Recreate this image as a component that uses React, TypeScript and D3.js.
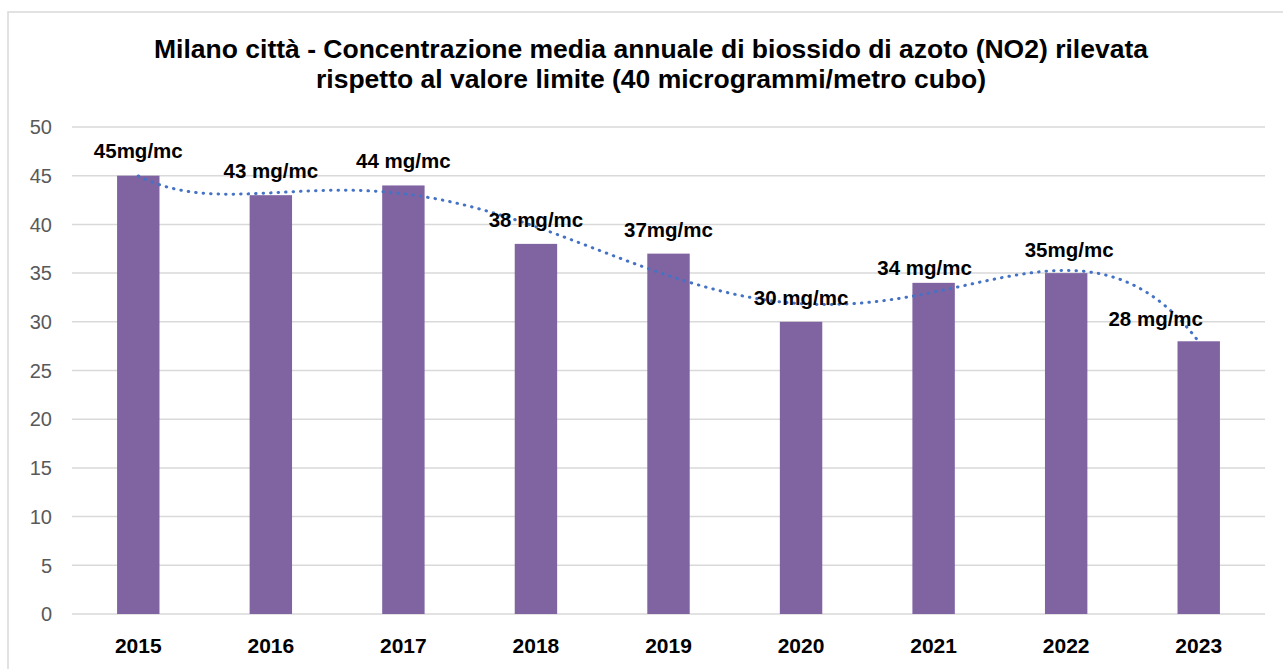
import React, { useEffect, useRef } from "react";
import * as d3 from "d3";

const years = ["2015", "2016", "2017", "2018", "2019", "2020", "2021", "2022", "2023"];
const values = [45, 43, 44, 38, 37, 30, 34, 35, 28];
const labels = ["45mg/mc", "43 mg/mc", "44 mg/mc", "38 mg/mc", "37mg/mc", "30 mg/mc", "34 mg/mc", "35mg/mc", "28 mg/mc"];
const yTicks = [0, 5, 10, 15, 20, 25, 30, 35, 40, 45, 50];
const titleLines = [
  "Milano città - Concentrazione media annuale di biossido di azoto (NO2) rilevata",
  "rispetto al valore limite (40 microgrammi/metro cubo)",
];

// label nudges (dx, dy from bar top) as in the original
const labelNudge: [number, number][] = [
  [0, -18], [0, -17], [0, -17], [0, -17], [0, -17], [0, -17], [-9, -8], [3, -16], [-43, -15],
];

// least squares polynomial fit (Excel-like poly trendline)
function polyFit(xs: number[], ys: number[], deg: number) {
  const n = deg + 1;
  const A: number[][] = [];
  for (let i = 0; i < n; i++) {
    A.push(new Array(n + 1).fill(0));
    for (let j = 0; j < n; j++) A[i][j] = d3.sum(xs, x => Math.pow(x, i + j));
    A[i][n] = d3.sum(xs, (x, k) => Math.pow(x, i) * ys[k]);
  }
  for (let c = 0; c < n; c++) {
    let p = c;
    for (let r = c + 1; r < n; r++) if (Math.abs(A[r][c]) > Math.abs(A[p][c])) p = r;
    [A[c], A[p]] = [A[p], A[c]];
    for (let r = 0; r < n; r++) {
      if (r === c) continue;
      const f = A[r][c] / A[c][c];
      for (let k = c; k <= n; k++) A[r][k] -= f * A[c][k];
    }
  }
  const coef = A.map((row, i) => row[n] / row[i]);
  return (x: number) => coef.reduce((s, c, i) => s + c * Math.pow(x, i), 0);
}

const App = () => {
  const svgRef = useRef<SVGSVGElement>(null);

  useEffect(() => {
    const svg = d3.select(svgRef.current);
    svg.selectAll("*").remove();

    const width = 1283;
    const height = 669;
    const left = 72, right = 1265, top = 127, bottom = 614;
    const font = "'Liberation Sans', Arial, sans-serif";

    svg.attr("width", width).attr("height", height);

    svg.append("rect")
      .attr("width", width).attr("height", height).attr("fill", "#fff");

    // chart border
    svg.append("rect")
      .attr("x", 8).attr("y", 12)
      .attr("width", 1300).attr("height", 700)
      .attr("fill", "none")
      .attr("stroke", "#d9d9d9")
      .attr("stroke-width", 1.5);

    const x = d3.scaleBand()
      .domain(years)
      .range([left, right])
      .paddingInner(0.68)
      .paddingOuter(0.34);

    const y = d3.scaleLinear().domain([0, 50]).range([bottom, top]);

    // gridlines
    svg.append("g")
      .selectAll("line")
      .data(yTicks)
      .enter()
      .append("line")
      .attr("x1", left).attr("x2", right)
      .attr("y1", d => y(d)).attr("y2", d => y(d))
      .attr("stroke", "#d9d9d9")
      .attr("stroke-width", 1.5);

    // y tick labels
    svg.append("g")
      .selectAll("text")
      .data(yTicks)
      .enter()
      .append("text")
      .attr("x", 52)
      .attr("y", d => y(d))
      .attr("dy", "0.36em")
      .attr("text-anchor", "end")
      .style("font-family", font)
      .style("font-size", "20px")
      .style("fill", "#595959")
      .text(d => d);

    // bars
    svg.append("g")
      .selectAll("rect")
      .data(values)
      .enter()
      .append("rect")
      .attr("x", (d, i) => x(years[i])!)
      .attr("y", d => y(d))
      .attr("width", x.bandwidth())
      .attr("height", d => y(0) - y(d))
      .attr("fill", "#8064a2");

    // x labels
    svg.append("g")
      .selectAll("text")
      .data(years)
      .enter()
      .append("text")
      .attr("x", d => x(d)! + x.bandwidth() / 2)
      .attr("y", 653)
      .attr("text-anchor", "middle")
      .style("font-family", font)
      .style("font-weight", "bold")
      .style("font-size", "21px")
      .style("fill", "#000")
      .text(d => d);

    // trendline (polynomial, order 6)
    const idx = years.map((_, i) => i - 4);
    const f = polyFit(idx, values, 6);
    const samples = d3.range(-4, 4.001, 0.05);
    const cx = (t: number) => x(years[0])! + x.bandwidth() / 2 + (t + 4) * x.step();
    const line = d3.line<number>().x(t => cx(t)).y(t => y(f(t)));
    svg.append("path")
      .attr("d", line(samples))
      .attr("fill", "none")
      .attr("stroke", "#4472c4")
      .attr("stroke-width", 3)
      .attr("stroke-linecap", "round")
      .attr("stroke-dasharray", "0.5 7");

    // data labels
    svg.append("g")
      .selectAll("text")
      .data(values)
      .enter()
      .append("text")
      .attr("x", (d, i) => x(years[i])! + x.bandwidth() / 2 + labelNudge[i][0])
      .attr("y", (d, i) => y(d) + labelNudge[i][1])
      .attr("text-anchor", "middle")
      .style("font-family", font)
      .style("font-weight", "bold")
      .style("font-size", "20.5px")
      .style("fill", "#000")
      .text((d, i) => labels[i]);

    // title
    svg.append("g")
      .selectAll("text")
      .data(titleLines)
      .enter()
      .append("text")
      .attr("x", 651)
      .attr("y", (d, i) => 58 + i * 30)
      .attr("text-anchor", "middle")
      .style("font-family", font)
      .style("font-weight", "bold")
      .style("font-size", "26.5px")
      .style("fill", "#000")
      .text(d => d);
  }, []);

  return <svg ref={svgRef} style={{ position: "absolute", left: 0, top: 0, display: "block" }} />;
};

export default App;
